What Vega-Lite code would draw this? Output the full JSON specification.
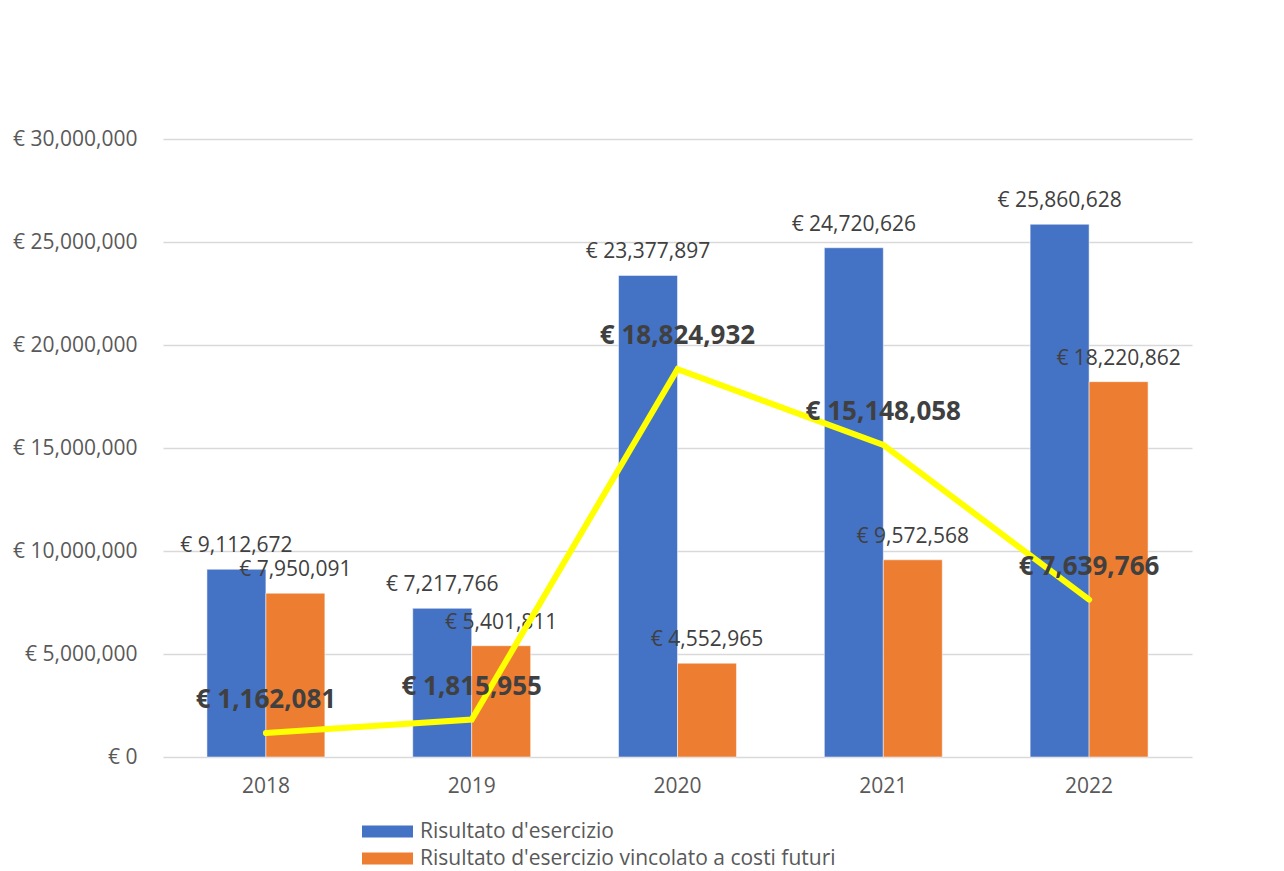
{
  "$schema": "https://vega.github.io/schema/vega-lite/v6.json",
  "autosize": {"type": "none"},
  "width": 1029,
  "height": 618,
  "padding": {"left": 163, "top": 139, "right": 92, "bottom": 114},
  "background": "white",
  "config": {
    "locale": {"number": {"decimal": ".", "thousands": ",", "grouping": [3], "currency": ["€ ", ""]}},
    "view": {"stroke": null},
    "font": "Open Sans"
  },
  "datasets": {
    "bars": [
      {"year": "2018", "series": "Risultato d'esercizio", "value": 9112672},
      {"year": "2018", "series": "Risultato d'esercizio vincolato a costi futuri", "value": 7950091},
      {"year": "2019", "series": "Risultato d'esercizio", "value": 7217766},
      {"year": "2019", "series": "Risultato d'esercizio vincolato a costi futuri", "value": 5401811},
      {"year": "2020", "series": "Risultato d'esercizio", "value": 23377897},
      {"year": "2020", "series": "Risultato d'esercizio vincolato a costi futuri", "value": 4552965},
      {"year": "2021", "series": "Risultato d'esercizio", "value": 24720626},
      {"year": "2021", "series": "Risultato d'esercizio vincolato a costi futuri", "value": 9572568},
      {"year": "2022", "series": "Risultato d'esercizio", "value": 25860628},
      {"year": "2022", "series": "Risultato d'esercizio vincolato a costi futuri", "value": 18220862}
    ],
    "line": [
      {"year": "2018", "value": 1162081},
      {"year": "2019", "value": 1815955},
      {"year": "2020", "value": 18824932},
      {"year": "2021", "value": 15148058},
      {"year": "2022", "value": 7639766}
    ]
  },
  "encoding": {
    "x": {
      "field": "year", "type": "nominal",
      "scale": {"paddingInner": 0.427, "paddingOuter": 0.2135},
      "axis": {"title": null, "labelAngle": 0, "labelFontSize": 21, "labelColor": "#595959", "labelPadding": 18, "ticks": false, "domain": false}
    }
  },
  "layer": [
    {
      "data": {"name": "bars"},
      "mark": {"type": "bar", "stroke": "white", "strokeWidth": 0.5},
      "encoding": {
        "xOffset": {"field": "series", "type": "nominal", "scale": {"domain": ["Risultato d'esercizio", "Risultato d'esercizio vincolato a costi futuri"], "paddingInner": 0, "paddingOuter": 0}},
        "y": {
          "field": "value", "type": "quantitative",
          "scale": {"domain": [0, 30000000]},
          "axis": {"title": null, "values": [0, 5000000, 10000000, 15000000, 20000000, 25000000, 30000000], "format": "$,.0f", "labelFontSize": 21, "labelColor": "#595959", "labelPadding": 26, "ticks": false, "domain": false, "gridColor": "#d9d9d9", "gridWidth": 1.5}
        },
        "color": {
          "field": "series", "type": "nominal",
          "scale": {"domain": ["Risultato d'esercizio", "Risultato d'esercizio vincolato a costi futuri"], "range": ["#4472C4", "#ED7D31"]},
          "legend": {
            "title": null, "orient": "none", "legendX": 214, "legendY": 682, "direction": "vertical",
            "symbolType": "M-2.55,-0.6H2.55V0.6H-2.55Z", "symbolSize": 400, "symbolStrokeWidth": 0,
            "labelFontSize": 21, "labelColor": "#595959", "labelOffset": 22, "rowPadding": 5, "labelLimit": 600, "padding": 0
          }
        }
      }
    },
    {
      "data": {"name": "bars"},
      "mark": {"type": "text", "dy": -23, "fontSize": 21, "color": "#404040"},
      "encoding": {
        "xOffset": {"field": "series", "type": "nominal"},
        "y": {"field": "value", "type": "quantitative"},
        "text": {"field": "value", "type": "quantitative", "format": "$,.0f"}
      }
    },
    {
      "data": {"name": "line"},
      "mark": {"type": "line", "color": "#FFFF00", "strokeWidth": 6, "strokeCap": "round", "strokeJoin": "miter"},
      "encoding": {
        "y": {"field": "value", "type": "quantitative"}
      }
    },
    {
      "data": {"name": "line"},
      "mark": {"type": "text", "dy": -33, "fontSize": 26, "fontWeight": "bold", "color": "#404040"},
      "encoding": {
        "y": {"field": "value", "type": "quantitative"},
        "text": {"field": "value", "type": "quantitative", "format": "$,.0f"}
      }
    }
  ]
}
